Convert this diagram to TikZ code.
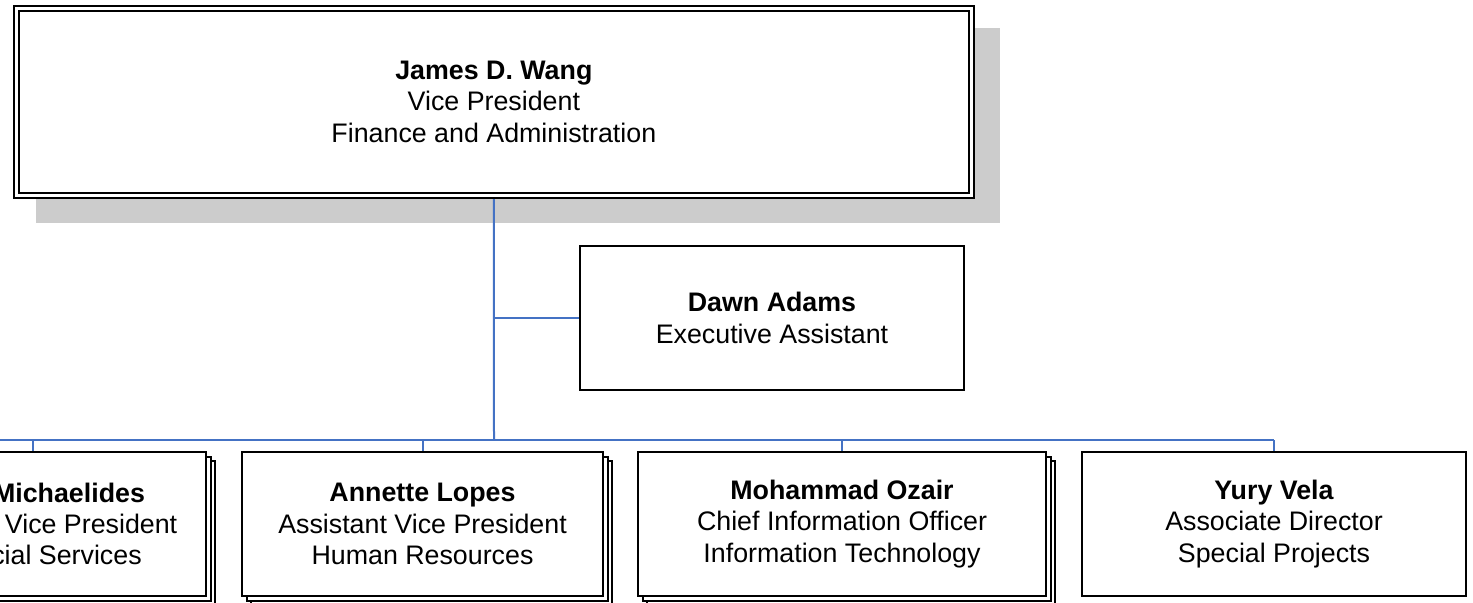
\documentclass[tikz,border=0pt]{standalone}
\usepackage{fontspec}
\setmainfont{Liberation Sans}
\usetikzlibrary{positioning}
\usetikzlibrary{shadows}
\usetikzlibrary{backgrounds}
\definecolor{orgblue}{HTML}{4472C4}
\definecolor{shadowgray}{HTML}{CCCCCC}
\tikzset{person/.style = {draw, fill = white, line width = 1pt, align = center, inner sep = 0, outer sep = 0,
                          minimum height = 72pt, font = \fontsize{13.4}{15.7}\selectfont}}
\tikzset{vpbox/.style = {person, double, double distance = 1.5pt, minimum width = 477.35pt, minimum height = 93.75pt}}
\tikzset{stackbox/.style = {person, double copy shadow = {shadow xshift = 2.25pt, shadow yshift = -2.25pt}}}
\tikzset{orgline/.style = {draw = orgblue, line width = 1pt}}

\begin{document}
\begin{tikzpicture}[x = 0.5pt, y = -0.5pt]
  \useasboundingbox (0, 0) rectangle (1473, 602);
  \clip (0, 0) rectangle (1473, 602);
  \node [vpbox] (wang) at (493.85, 101.75) {\textbf{James D. Wang}\\Vice President\\Finance and Administration};
  \node [person, minimum width = 192pt] (adams) at (772, 318) {\textbf{Dawn Adams}\\Executive Assistant};
  \node [stackbox, minimum width = 173pt] (michaelides) at (33, 524) {\textbf{\hspace*{36pt}Michaelides}\\Assistant Vice President\\Financial Services};
  \node [stackbox, minimum width = 180.5pt] (lopes) at (422.5, 524) {\textbf{Annette Lopes}\\Assistant Vice President\\Human Resources};
  \node [stackbox, minimum width = 204pt] (ozair) at (842, 524) {\textbf{Mohammad Ozair}\\Chief Information Officer\\Information Technology};
  \node [person, minimum width = 192pt] (vela) at (1274, 524) {\textbf{Yury Vela}\\Associate Director\\Special Projects};
  \coordinate (bus) at (494, 440);
  \coordinate (busend) at (0, 440);
  \begin{scope}[on background layer]
    \fill [shadowgray] ([shift = {(19.5, 20)}]wang.north west) rectangle ([shift = {(28.8, 27.5)}]wang.south east);
    \draw [orgline] (wang.south) -- (bus);
    \draw [orgline] (wang.south |- adams.west) -- (adams.west);
    \draw [orgline] (busend) -- (bus -| vela.north);
    \foreach \who in {michaelides, lopes, ozair, vela}
      \draw [orgline] (bus -| \who.north) -- (\who.north);
  \end{scope}
\end{tikzpicture}
\end{document}
